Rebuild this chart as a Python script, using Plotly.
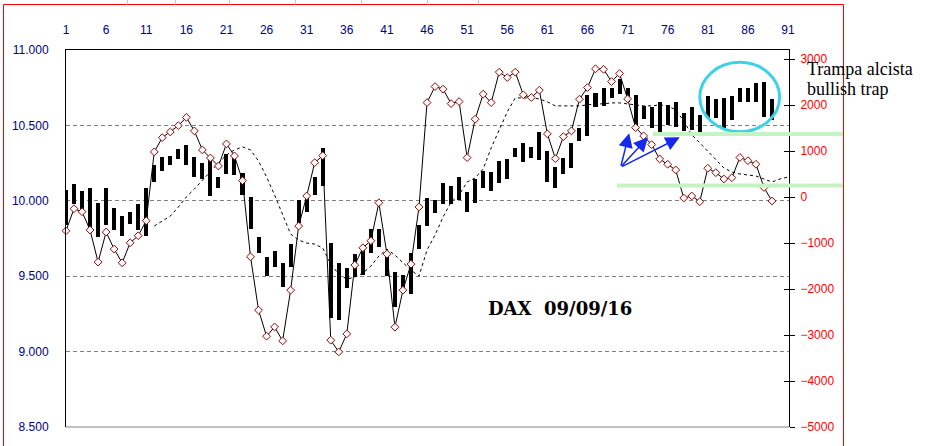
import plotly.graph_objects as go

# ---------------- data ----------------
sessions = list(range(1, 90))

highs = [10072, 10111, 10065, 10085, 9985, 10085, 9952, 9900, 9926, 9979,
         10085, 10237, 10290, 10297, 10343, 10370, 10290, 10251, 10277, 10158,
         10310, 10284, 10184, 10025, 9760, 9627, 9667, 9588, 9714, 10005,
         10039, 10158, 10350, 9720, 9588, 9554, 9647, 9694, 9813, 9813,
         9654, 9528, 9508, 9654, 9840, 10019, 10006, 10118, 10098, 10158,
         10058, 10145, 10198, 10191, 10264, 10277, 10350, 10383, 10357, 10456,
         10330, 10224, 10284, 10383, 10483, 10702, 10715, 10748, 10748, 10808,
         10748, 10702, 10629, 10622, 10655, 10635, 10655, 10582, 10622, 10569,
         10695, 10675, 10682, 10695, 10748, 10748, 10781, 10788, 10675]

lows = [9840, 9979, 9926, 9826, 9760, 9840, 9806, 9767, 9846, 9806,
        9767, 10125, 10198, 10237, 10277, 10237, 10158, 10145, 10032, 10085,
        10178, 10171, 10039, 9813, 9654, 9501, 9561, 9428, 9561, 9853,
        9926, 10039, 10098, 9223, 9210, 9422, 9495, 9508, 9654, 9694,
        9501, 9296, 9395, 9382, 9680, 9833, 9919, 9979, 9979, 10006,
        9926, 9985, 10085, 10065, 10118, 10145, 10290, 10257, 10284, 10271,
        10125, 10085, 10178, 10218, 10397, 10430, 10622, 10629, 10682, 10708,
        10655, 10496, 10542, 10483, 10456, 10503, 10489, 10463, 10470, 10456,
        10549, 10549, 10483, 10536, 10655, 10655, 10655, 10556, 10536]

oscillator = [-734, -255, -320, -718, -1415, -762, -1132, -1430, -995, -842,
              -516, 980, 1291, 1415, 1552, 1731, 1437, 1023, 849, 675,
              1154, 893, 355, -1300, -2460, -3026, -2824, -3128, -2025, -631,
              22, 747, 899, -3113, -3368, -2976, -1480, -1104, -951, -124,
              -1241, -2830, -2025, -1459, -218, 2053, 2401, 2345, 2031, 2075,
              856, 1692, 2236, 2053, 2715, 2597, 2715, 2221, 2162, 2323,
              1372, 834, 1313, 1437, 2127, 2379, 2787, 2776, 2510, 2684,
              2133, 1509, 1328, 1139, 827, 712, 588, -22, 22, -102,
              625, 529, 392, 420, 860, 790, 712, 207, -87]

ma_sessions = list(range(12, 92))
ma_values = [-631, -522, -414, -218, 0, 174, 370, 566, 740, 914,
             1023, 1089, 1023, 784, 435, 44, -370, -805, -936, -1001,
             -1023, -1110, -1459, -1676, -1785, -1742, -1654, -1502, -1284, -1132,
             -1263, -1437, -1589, -1720, -1154, -827, -435, -109, 44, 327,
             414, 610, 1067, 1459, 1850, 2155, 2155, 2155, 2133, 2068,
             1981, 1981, 1981, 1981, 2003, 2025, 2025, 2046, 2046, 2025,
             2003, 1981, 1981, 2003, 1981, 1894, 1654, 1350, 1176, 1001,
             827, 631, 544, 501, 479, 457, 392, 327, 392, 435]

x_ticks = list(range(1, 92, 5))
left_ticks = [8500, 9000, 9500, 10000, 10500, 11000]
left_labels = ["8.500", "9.000", "9.500", "10.000", "10.500", "11.000"]
right_ticks = [-5000, -4000, -3000, -2000, -1000, 0, 1000, 2000, 3000]

# ---------------- geometry helpers (pixel -> paper) ----------------
W, H = 925, 446
ML, MR, MT, MB = 66, 136, 50, 19
PW, PH = W - ML - MR, H - MT - MB


def px(xp):
    return (xp - ML) / PW


def py(yp):
    return (H - MB - yp) / PH


fig = go.Figure()

# high-low bars
fig.add_trace(go.Bar(
    x=sessions, y=[h - l for h, l in zip(highs, lows)], base=lows,
    width=0.5, marker=dict(color="black", line=dict(width=0)),
    yaxis="y", hoverinfo="skip", showlegend=False))

# moving average (dashed) on right axis
fig.add_trace(go.Scatter(
    x=ma_sessions, y=ma_values, mode="lines", yaxis="y2",
    line=dict(color="black", width=1, dash="3px,3px"),
    hoverinfo="skip", showlegend=False))

# oscillator with diamond markers
fig.add_trace(go.Scatter(
    x=sessions, y=oscillator, mode="lines+markers", yaxis="y2",
    line=dict(color="black", width=1),
    marker=dict(symbol="diamond", size=6, color="white",
                line=dict(color="#a00000", width=1)),
    cliponaxis=False, hoverinfo="skip", showlegend=False))

# invisible helper trace so the inner-tick axis is drawn
fig.add_trace(go.Scatter(x=[1], y=[0], yaxis="y3", mode="markers",
                         marker=dict(opacity=0), hoverinfo="skip",
                         showlegend=False))

axis_font = dict(family="Liberation Sans, Arial, sans-serif", size=12)

fig.update_layout(
    width=W, height=H, autosize=False,
    margin=dict(l=ML, r=MR, t=MT, b=MB, pad=0),
    paper_bgcolor="white", plot_bgcolor="white",
    showlegend=False, bargap=0, hovermode=False,
    xaxis=dict(range=[1, 91.12], side="top", tickvals=x_ticks,
               ticks="", showgrid=False, zeroline=False,
               showline=True, linecolor="black", linewidth=1,
               tickfont=dict(color="#000080", **axis_font),
               ticklabelstandoff=10),
    yaxis=dict(range=[8500, 11000], tickvals=left_ticks, ticktext=left_labels,
               ticks="", showline=True, linecolor="black", linewidth=1,
               showgrid=True, gridcolor="#808080", gridwidth=1,
               griddash="4px,3px", zeroline=False,
               tickfont=dict(color="#000080", **axis_font),
               ticklabelstandoff=14),
    yaxis2=dict(range=[-5000, 3196], overlaying="y", side="right",
                tickvals=right_ticks, ticks="outside", ticklen=5,
                tickcolor="black", showline=True, linecolor="black",
                linewidth=1, showgrid=False, zeroline=False,
                tickfont=dict(color="#ff0000", **axis_font),
                ticklabelstandoff=3),
    yaxis3=dict(range=[-5000, 3196], overlaying="y", side="right",
                tickvals=right_ticks, ticks="inside", ticklen=5,
                tickcolor="black", showline=False, showgrid=False,
                zeroline=False, showticklabels=False),
)

shapes = []
# outer red chart border
shapes.append(dict(type="rect", xref="paper", yref="paper",
                   x0=px(3.5), x1=px(843.5), y0=py(470), y1=py(4.5),
                   line=dict(color="#ff0000", width=1), layer="below"))
# gray spreadsheet cell lines above the border
for cx in [127.5, 175.5, 229.5, 295.5, 361.5, 427.5, 478.5]:
    shapes.append(dict(type="line", xref="paper", yref="paper",
                       x0=px(cx), x1=px(cx), y0=py(0), y1=py(4.5),
                       line=dict(color="#c8c8c8", width=1)))
# bottom gray plot border
shapes.append(dict(type="line", xref="paper", yref="paper",
                   x0=0, x1=1, y0=0, y1=0,
                   line=dict(color="#c0c0c0", width=2)))
# cyan circle around the bullish trap
shapes.append(dict(type="circle", xref="x", yref="y",
                   x0=80.0, x1=89.95, y0=10458, y1=10918,
                   line=dict(color="#3cd2e6", width=3)))
# green support lines
shapes.append(dict(type="line", xref="paper", yref="paper",
                   x0=px(653), x1=px(843), y0=py(134), y1=py(134),
                   line=dict(color="#c4f4c4", width=4)))
shapes.append(dict(type="line", xref="paper", yref="paper",
                   x0=px(617), x1=px(843), y0=py(185.5), y1=py(185.5),
                   line=dict(color="#c4f4c4", width=4)))
fig.update_layout(shapes=shapes)

annotations = [
    dict(text="<b>DAX\u00a0\u00a009/09/16</b>", xref="paper", yref="paper",
         x=px(560), y=py(308), xanchor="center", yanchor="middle",
         showarrow=False,
         font=dict(family="DejaVu Serif, serif", size=18, color="black")),
    dict(text="Trampa alcista", xref="paper", yref="paper",
         x=px(805), y=py(69), xanchor="left", yanchor="middle",
         showarrow=False,
         font=dict(family="Liberation Serif, Times New Roman, serif",
                   size=18, color="black")),
    dict(text="bullish trap", xref="paper", yref="paper",
         x=px(805), y=py(89), xanchor="left", yanchor="middle",
         showarrow=False,
         font=dict(family="Liberation Serif, Times New Roman, serif",
                   size=18, color="black")),
]
# blue arrows (tip in data coordinates, tail as pixel offset)
for tip_x, tip_y, ax, ay in [(71.2, 10448, -8.6, 34),
                             (73.55, 10421, -27.6, 30),
                             (77.5, 10421, -59.3, 30)]:
    annotations.append(dict(text="", xref="x", yref="y", x=tip_x, y=tip_y,
                            ax=ax, ay=ay, showarrow=True, arrowhead=2,
                            arrowsize=1.9, arrowwidth=1.5,
                            arrowcolor="#1428f0"))
fig.update_layout(annotations=annotations)

fig.write_html("out.html", config={"displayModeBar": False},
               post_script="document.body.style.margin='0';"
                           "document.body.style.overflow='hidden';")
